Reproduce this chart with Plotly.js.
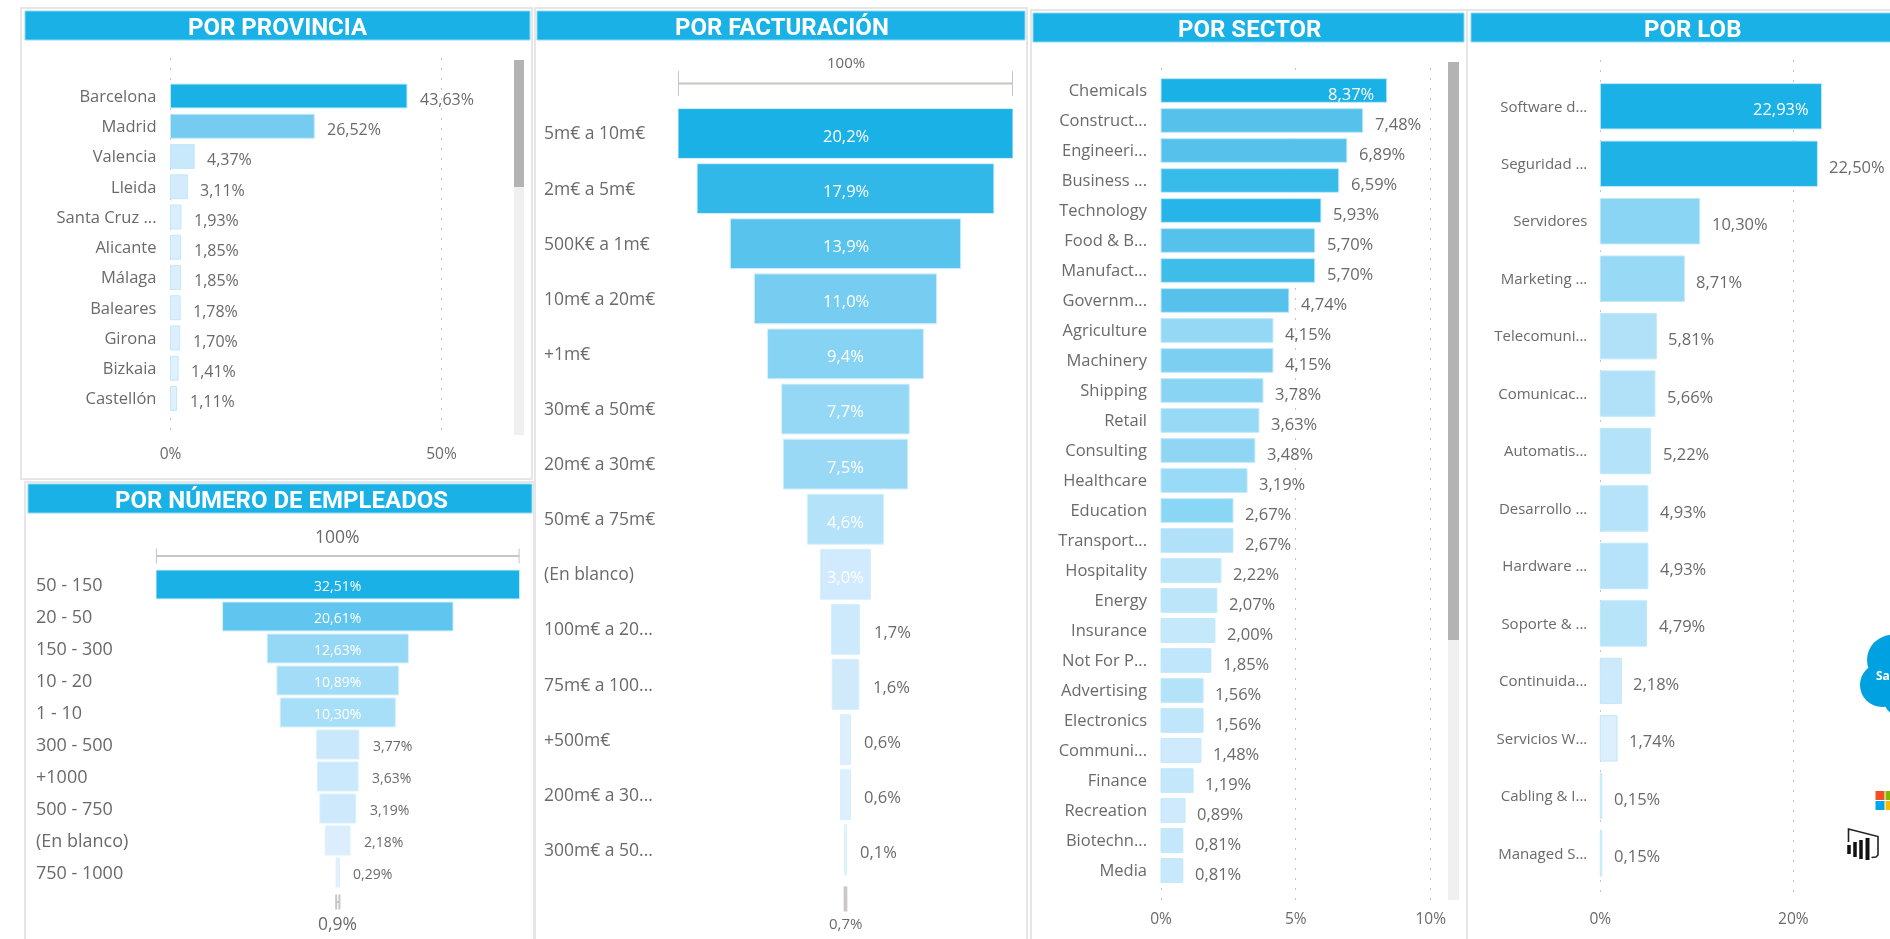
<!DOCTYPE html>
<html><head><meta charset="utf-8">
<script src="https://cdn.plot.ly/plotly-3.0.1.min.js"></script>
<style>html,body{margin:0;padding:0;background:#fff;overflow:hidden}#c{width:1890px;height:939px;filter:blur(0.45px)}</style>
</head><body><div id="c"></div>
<script>
// ---------- data ----------
const provinciaCats = ["Barcelona","Madrid","Valencia","Lleida","Santa Cruz ...","Alicante","Málaga","Baleares","Girona","Bizkaia","Castellón"];
const provinciaVals = [43.63,26.52,4.37,3.11,1.93,1.85,1.85,1.78,1.70,1.41,1.11];
const empleadosCats = ["50 - 150","20 - 50","150 - 300","10 - 20","1 - 10","300 - 500","+1000","500 - 750","(En blanco)","750 - 1000"];
const empleadosVals = [32.51,20.61,12.63,10.89,10.30,3.77,3.63,3.19,2.18,0.29];
const facturacionCats = ["5m€ a 10m€","2m€ a 5m€","500K€ a 1m€","10m€ a 20m€","+1m€","30m€ a 50m€","20m€ a 30m€","50m€ a 75m€","(En blanco)","100m€ a 20...","75m€ a 100...","+500m€","200m€ a 30...","300m€ a 50..."];
const facturacionVals = [20.2,17.9,13.9,11.0,9.4,7.7,7.5,4.6,3.0,1.7,1.6,0.6,0.6,0.1];
const sectorCats = ["Chemicals","Construct...","Engineeri...","Business ...","Technology","Food & B...","Manufact...","Governm...","Agriculture","Machinery","Shipping","Retail","Consulting","Healthcare","Education","Transport...","Hospitality","Energy","Insurance","Not For P...","Advertising","Electronics","Communi...","Finance","Recreation","Biotechn...","Media"];
const sectorVals = [8.37,7.48,6.89,6.59,5.93,5.70,5.70,4.74,4.15,4.15,3.78,3.63,3.48,3.19,2.67,2.67,2.22,2.07,2.00,1.85,1.56,1.56,1.48,1.19,0.89,0.81,0.81];
const lobCats = ["Software d...","Seguridad ...","Servidores","Marketing ...","Telecomuni...","Comunicac...","Automatis...","Desarrollo ...","Hardware ...","Soporte & ...","Continuida...","Servicios W...","Cabling & I...","Managed S..."];
const lobVals = [22.93,22.50,10.30,8.71,5.81,5.66,5.22,4.93,4.93,4.79,2.18,1.74,0.15,0.15];

// ---------- colours (per bar) ----------
const provinciaColors = ["#1ab1e6","#76cbf0","#c8e8fc","#d4ebfc","#dbeefd","#dceefd","#dceefd","#ddeffe","#ddeffe","#dff0fe","#e0f0fe"];
const empleadosColors = ["#1ab1e6","#60c6ef","#95d8f5","#a3dcf7","#a7dff8","#c9e8fc","#cbe9fc","#cee9fc","#dceefe","#e3f1fe"];
const facturacionColors = ["#1ab1e6","#31b8e9","#58c3ed","#76cdf1","#87d3f4","#95d8f5","#9ad9f6","#b4e2f9","#d1eafd","#cde9fc","#d0eafc","#ddeffe","#ddeffe","#e5f2fe"];
const sectorColors = ["#1ab1e6","#56c2ec","#56c2ec","#39bbe9","#25b5e8","#56c2ec","#3fbde9","#56c2ec","#95d8f5","#7dcff2","#8ad4f3","#98d9f5","#90d6f4","#99daf6","#8ad6f5","#b0e1f8","#bce5f9","#bce5f9","#c6e8fb","#bfe6fa","#b4e3f9","#bfe6fa","#cfeafc","#c4e7fb","#cfeafc","#c4e7fb","#c8e8fb"];
const lobColors = ["#1ab1e6","#1eb2e6","#8ad4f4","#98d9f5","#b0e1f8","#b1e1f8","#b4e2f9","#b6e3f9","#b6e3f9","#b8e4f9","#cde9fc","#ddeefd","#dceefe","#dceefe"];

// ---------- layout helpers ----------
const W = 1890, H = 939;
const px = x => x / W, py = y => 1 - y / H;
const FONT = "Open Sans, Noto Sans, sans-serif";
const TITLEFONT = "Roboto, sans-serif";
const GREY = "#6a6a6a";
const shapes = [], annotations = [], traces = [];
const layout = {width:W,height:H,margin:{l:0,r:0,t:0,b:0},paper_bgcolor:"#fff",plot_bgcolor:"rgba(0,0,0,0)",
  showlegend:false,bargap:0.21,funnelgap:0.095,shapes,annotations,font:{family:FONT,color:GREY}};

function rect(x0,y0,x1,y1,fill,line,lw){shapes.push({type:"rect",layer:"below",xref:"paper",yref:"paper",x0:px(x0),x1:px(x1),y0:py(y0),y1:py(y1),fillcolor:fill||"rgba(0,0,0,0)",line:{color:line||"rgba(0,0,0,0)",width:lw||0}});}
function header(x0,y0,x1,y1,cx,cy,text){
  rect(x0,y0,x1,y1,"#1ab1e6","#8ed8f3",1);
  annotations.push({xref:"paper",yref:"paper",x:px(cx),y:py(cy),text:"<b>"+text+"</b>",showarrow:false,xanchor:"center",yanchor:"middle",font:{family:TITLEFONT,size:24,color:"#fff"}});
}
const fmt = (v,d) => v.toFixed(d).replace(".",",") + "%";
function ax(n,s){return s+(n===1?"":n);}
function yRange(top,bottom,c0,step){return [(bottom-c0)/step,(top-c0)/step];}

function barPanel(o){
  const n=o.n, xa=ax(n,"xaxis"), ya=ax(n,"yaxis"), xr=ax(n,"x"), yr=ax(n,"y");
  traces.push({type:"bar",orientation:"h",x:o.vals,y:o.cats,xaxis:xr,yaxis:yr,hoverinfo:"skip",
    marker:{color:o.colors,line:{color:"#bfe9fa",width:1}}});
  // the axis starts 2px left of zero so that the dotted gridline at 0 is kept
  layout[xa]={domain:[px(o.x0-2),px(o.x1)],range:[-2/o.pxPer,(o.x1-o.x0)/o.pxPer],anchor:yr,tickmode:"array",tickvals:o.ticks,ticktext:o.ticks.map(t=>t+"%"),showline:false,zeroline:false,
    showgrid:true,gridcolor:"#c4c4c4",griddash:"2px,8px",gridwidth:1,ticks:"",ticklabelstandoff:o.tickStand,tickfont:{family:FONT,size:o.tickSize,color:GREY}};
  layout[ya]={domain:[py(o.yb),py(o.yt)],type:"category",categoryorder:"array",categoryarray:o.cats,range:yRange(o.yt,o.yb,o.c0,o.step),anchor:xr,
    dtick:1,showgrid:false,zeroline:false,showline:false,ticks:"",ticklabelstandoff:o.labelStand-2,tickfont:{family:FONT,size:o.catSize,color:GREY}};
  o.vals.forEach((v,i)=>{
    const inside=v>=o.insideFrom;
    annotations.push({xref:xr,yref:yr,x:v,y:i,text:fmt(v,2),showarrow:false,xanchor:inside?"right":"left",yanchor:"middle",
      xshift:inside?-11:o.gap,yshift:-o.dy,font:{family:FONT,size:o.valSize,color:inside?"#fff":GREY}});
  });
}

function funnelPanel(o){
  const n=o.n, xa=ax(n,"xaxis"), ya=ax(n,"yaxis"), xr=ax(n,"x"), yr=ax(n,"y");
  traces.push({type:"funnel",orientation:"h",x:o.vals,y:o.cats,xaxis:xr,yaxis:yr,hoverinfo:"skip",textinfo:"none",
    connector:{visible:false},marker:{color:o.colors,line:{color:"#d5f0fb",width:1}}});
  const half=o.vals[0]/2;
  layout[xa]={domain:[px(o.x0),px(o.x1)],range:[-half,half],anchor:yr,visible:false,showgrid:false,zeroline:false};
  layout[ya]={domain:[py(o.yb),py(o.yt)],type:"category",categoryorder:"array",categoryarray:o.cats,range:yRange(o.yt,o.yb,o.c0,o.step),anchor:xr,
    dtick:1,showgrid:false,zeroline:false,showline:false,showticklabels:false,ticks:""};
  o.cats.forEach((c,i)=>{
    annotations.push({xref:"paper",yref:yr,x:px(o.labelX),y:i,text:c,showarrow:false,xanchor:"left",yanchor:"middle",yshift:o.catDy,font:{family:FONT,size:o.catSize,color:GREY}});
    const v=o.vals[i], inside=v>=o.insideFrom;
    annotations.push({xref:xr,yref:yr,x:inside?0:v/2,y:i,text:fmt(v,o.dec),showarrow:false,xanchor:inside?"center":"left",yanchor:"middle",
      xshift:inside?0:o.gap,yshift:-o.dy,font:{family:FONT,size:o.valSize,color:inside?"#fff":GREY}});
  });
  // brackets: overall width (first stage) and last-stage ratio, from the data
  const lineS={color:"#c8c6c4",width:2};
  const bracket=(h,y,t)=>{
    [[-h,y,h,y],[-h,y-t,-h,y+t],[h,y-t,h,y+t]].forEach(s=>shapes.push({type:"line",xref:xr,yref:"paper",x0:s[0],x1:s[2],y0:py(s[1]),y1:py(s[3]),line:lineS}));
  };
  bracket(half,o.brTop,o.brT);
  const last=o.vals[o.vals.length-1]/2;
  bracket(last,o.brBot,o.brT);
  annotations.push({xref:xr,yref:"paper",x:0,y:py(o.topY),text:"100%",showarrow:false,yanchor:"middle",font:{family:FONT,size:o.ratioSize,color:GREY}});
  annotations.push({xref:xr,yref:"paper",x:0,y:py(923),text:o.botLabel,showarrow:false,yanchor:"middle",font:{family:FONT,size:o.ratioSize,color:GREY}});
}

// ---------- frames, headers ----------
rect(21,8,532,479,"#fff","#e6e6e6",2);
rect(25,482,534,945,"#fff","#e6e6e6",2);
rect(535,8,1027,945,"#fff","#e6e6e6",2);
rect(1031,10,1467,945,"#fff","#e6e6e6",2);
rect(1467,10,1900,945,"#fff","#e6e6e6",2);
header(25,11,530,40,278,27,"POR PROVINCIA");
header(28,484,532,513,281,499.5,"POR NÚMERO DE EMPLEADOS");
header(537,11,1025,40,782,27,"POR FACTURACIÓN");
header(1033,13,1464,42,1249,28.5,"POR SECTOR");
header(1471,13,1900,42,1692,28.5,"POR LOB");
// scrollbars
rect(514,60,524,435,"#f0f0f0"); rect(514,60,524,187,"#b3b3b3");
rect(1448,62,1459,900,"#f0f0f0"); rect(1448,62,1459,640,"#b3b3b3");

// ---------- panels ----------
barPanel({n:1,cats:provinciaCats,vals:provinciaVals,colors:provinciaColors,x0:170.5,x1:505,pxPer:5.42,yt:58,yb:435,c0:96,step:30.25,
  ticks:[0,50],tickSize:15.5,tickStand:7,catSize:16.5,labelStand:13,valSize:16,gap:11,dy:3,insideFrom:999});
funnelPanel({n:2,cats:empleadosCats,vals:empleadosVals,colors:empleadosColors,x0:156,x1:519.6,yt:566,yb:890,c0:584.5,step:32,labelX:34,
  catSize:18,catDy:1,valSize:14,gap:12,dy:1,insideFrom:10,dec:2,brTop:556,brBot:902,brT:7.5,topY:536,ratioSize:17.5,botLabel:"0,9%"});
funnelPanel({n:3,cats:facturacionCats,vals:facturacionVals,colors:facturacionColors,x0:678,x1:1013,yt:104,yb:880,c0:133.5,step:55.1,labelX:542,
  catSize:17.5,catDy:1,valSize:16.5,gap:12,dy:2,insideFrom:3,dec:1,brTop:83.5,brBot:899,brT:12.5,topY:62,ratioSize:15,botLabel:"0,7%"});
barPanel({n:4,cats:sectorCats,vals:sectorVals,colors:sectorColors,x0:1161,x1:1440,pxPer:26.97,yt:68,yb:900,c0:90.5,step:30,
  ticks:[0,5,10],tickSize:15.5,tickStand:7,catSize:16.5,labelStand:13,valSize:16.5,gap:10,dy:2.5,insideFrom:8});
barPanel({n:5,cats:lobCats,vals:lobVals,colors:lobColors,x0:1600.3,x1:1890,pxPer:9.65,yt:60,yb:900,c0:106.3,step:57.46,
  ticks:[0,20],tickSize:15.5,tickStand:7,catSize:15,labelStand:12,valSize:16.5,gap:10,dy:2.5,insideFrom:22.7});

// ---------- logos ----------
function circle(cx,cy,r,fill){shapes.push({type:"circle",xref:"paper",yref:"paper",x0:px(cx-r),x1:px(cx+r),y0:py(cy+r),y1:py(cy-r),fillcolor:fill,line:{width:0}});}
const CLOUD="#00a1e0";
circle(1892,660,25,CLOUD); circle(1882,685,22,CLOUD); circle(1900,700,16,CLOUD);
annotations.push({xref:"paper",yref:"paper",x:px(1874),y:py(675),text:"<b>Sa</b>",showarrow:false,xanchor:"left",yanchor:"middle",font:{family:FONT,size:12,color:"#fff"}});
function sq(x0,y0,x1,y1,c){shapes.push({type:"rect",xref:"paper",yref:"paper",x0:px(x0),x1:px(x1),y0:py(y0),y1:py(y1),fillcolor:c,line:{width:0}});}
sq(1875.5,791,1884.5,800,"#f25022"); sq(1885.5,791,1894,800,"#7fba00"); sq(1875.5,801,1884.5,810,"#00a4ef"); sq(1885.5,801,1894,810,"#ffb900");
function poly(pts,color,w){shapes.push({type:"path",xref:"paper",yref:"paper",path:"M"+pts.map(p=>px(p[0])+" "+py(p[1])).join(" L"),line:{color,width:w},fillcolor:"rgba(0,0,0,0)"});}
poly([[1848.5,842],[1848.5,829],[1878,836.5],[1878,855],[1876,857],[1871.5,857.5]],"#222",1.6);
poly([[1849,845],[1849,854]],"#111",3.5);
poly([[1855,842],[1855,857]],"#111",3.5);
poly([[1861,840],[1861,859]],"#111",3.5);
poly([[1867.5,838],[1867.5,860]],"#111",4);

Plotly.newPlot("c",traces,layout,{staticPlot:true,displayModeBar:false});
</script></body></html>
